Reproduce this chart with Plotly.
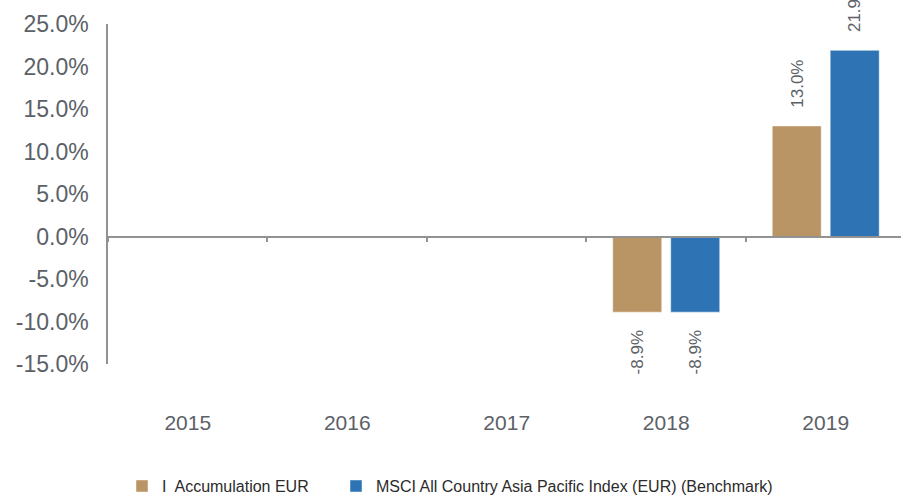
import plotly.graph_objects as go

years = ["2015", "2016", "2017", "2018", "2019"]
fund_name = "I  Accumulation EUR"
bench_name = "MSCI All Country Asia Pacific Index (EUR) (Benchmark)"
fund_vals = [None, None, None, -8.9, 13.0]
bench_vals = [None, None, None, -8.9, 21.9]
y_ticks = [-15, -10, -5, 0, 5, 10, 15, 20, 25]

FUND_COLOR = "#B99464"
BENCH_COLOR = "#2E74B5"
TEXT_COLOR = "#5B6167"
LINE_COLOR = "#929292"
FONT = "Liberation Sans, Arial, sans-serif"

y_min, y_max = y_ticks[0], y_ticks[-1]
x_max = len(years) - 0.5 - 0.028

fig = go.Figure()
fig.add_trace(go.Bar(x=years, y=fund_vals, name=fund_name, legend="legend",
                     marker=dict(color=FUND_COLOR, line=dict(color="rgba(255,255,255,0.45)", width=1))))
fig.add_trace(go.Bar(x=years, y=bench_vals, name=bench_name, legend="legend2",
                     marker=dict(color=BENCH_COLOR, line=dict(color="rgba(255,255,255,0.45)", width=1))))

# rotated value labels
annotations = []
for vals, shift in ((fund_vals, -29), (bench_vals, 29)):
    for i, v in enumerate(vals):
        if v is None:
            continue
        annotations.append(dict(
            x=i, y=v, xref="x", yref="y", text=f"{v:.1f}%", showarrow=False,
            textangle=-90, xshift=shift, yshift=16 if v >= 0 else -16,
            yanchor="bottom" if v >= 0 else "top", xanchor="center",
            font=dict(family=FONT, size=17, color=TEXT_COLOR)))

legend_common = dict(orientation="h", xref="container", yref="container",
                     y=0.018, xanchor="left", yanchor="middle",
                     font=dict(family=FONT, size=16, color="#2B2B2B"),
                     itemclick=False, itemdoubleclick=False,
                     bgcolor="rgba(0,0,0,0)")

fig.update_layout(
    width=901, height=495,
    margin=dict(l=108, r=0, t=24, b=131),
    paper_bgcolor="white", plot_bgcolor="white",
    barmode="group", bargap=0.273, bargroupgap=0.155,
    font=dict(family=FONT, color=TEXT_COLOR),
    annotations=annotations,
    showlegend=True,
    legend=dict(x=122 / 901, **legend_common),
    legend2=dict(x=336 / 901, **legend_common),
    xaxis=dict(type="category", range=[-0.5, x_max], showline=False, ticks="",
               showgrid=False, zeroline=False,
               tickfont=dict(family=FONT, size=21, color=TEXT_COLOR),
               ticklabelstandoff=44),
    xaxis2=dict(overlaying="x", anchor="free",
                position=(0 - y_min) / (y_max - y_min),
                range=[-0.5, x_max], showline=True, linecolor=LINE_COLOR, linewidth=1.5,
                ticks="outside", ticklen=5, tickcolor=LINE_COLOR, tickwidth=1.5,
                tickvals=[i - 0.5 for i in range(len(years) + 1)],
                showticklabels=False, showgrid=False, zeroline=False),
    yaxis=dict(range=[y_min, y_max], tickvals=y_ticks,
               ticktext=[f"{t:.1f}%" for t in y_ticks],
               showline=True, linecolor=LINE_COLOR, linewidth=1.5,
               ticks="", showgrid=False, zeroline=False,
               tickfont=dict(family=FONT, size=23, color=TEXT_COLOR),
               ticklabelstandoff=13),
)
# invisible trace to activate xaxis2
fig.add_trace(go.Scatter(x=[0], y=[0], xaxis="x2", yaxis="y", mode="markers",
                         marker=dict(opacity=0), showlegend=False, hoverinfo="skip"))

fig.write_html("out.html", config={"displayModeBar": False},
               post_script="document.body.style.margin='0';document.body.style.overflow='hidden';")
